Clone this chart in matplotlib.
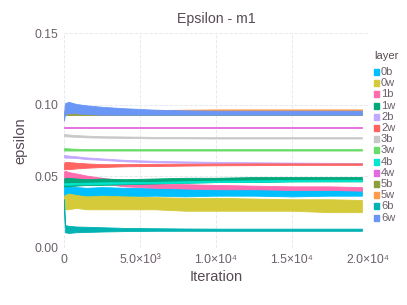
import matplotlib.pyplot as plt
from matplotlib.patches import Rectangle

# iteration knots
iters = [0, 60, 300, 800, 1500, 2500, 4000, 6000, 8000, 10000, 12500, 15000, 17500, 19600]

layers = ["0b", "0w", "1b", "1w", "2b", "2w", "3b", "3w", "4b", "4w", "5b", "5w", "6b", "6w"]
colors = ["#00BFFF", "#D4CA3A", "#FF6DAE", "#00A87A", "#C2A8FF", "#FF6461", "#C8C8C8",
          "#6BDC6B", "#00E6D0", "#E36BDD", "#8E9E3A", "#FF9A4A", "#00B2B2", "#6A96F5"]

# lower / upper edge of each noisy band
eps_lo = {
    "0b": [0.036, 0.036, 0.0355, 0.036, 0.036, 0.0365, 0.036, 0.0365, 0.036, 0.0365, 0.0365, 0.036, 0.0365, 0.0365],
    "0w": [0.028, 0.027, 0.027, 0.028, 0.027, 0.027, 0.027, 0.027, 0.026, 0.026, 0.026, 0.026, 0.025, 0.025],
    "1b": [0.048, 0.048, 0.047, 0.047, 0.046, 0.045, 0.043, 0.042, 0.0415, 0.041, 0.041, 0.0405, 0.0405, 0.040],
    "1w": [0.043, 0.043, 0.043, 0.0435, 0.044, 0.044, 0.0445, 0.045, 0.0455, 0.046, 0.046, 0.0465, 0.0465, 0.0465],
    "2b": [0.0635, 0.063, 0.063, 0.0628, 0.062, 0.0615, 0.0605, 0.0598, 0.0595, 0.0592, 0.059, 0.0588, 0.0586, 0.0585],
    "2w": [0.055, 0.055, 0.055, 0.0555, 0.056, 0.0565, 0.057, 0.0572, 0.0575, 0.0577, 0.0578, 0.058, 0.058, 0.058],
    "3b": [0.078, 0.078, 0.0778, 0.0775, 0.0772, 0.077, 0.0768, 0.0765, 0.0765, 0.0764, 0.0764, 0.0764, 0.0764, 0.0764],
    "3w": [0.068, 0.068, 0.068, 0.068, 0.068, 0.068, 0.068, 0.068, 0.068, 0.068, 0.068, 0.068, 0.068, 0.068],
    "4b": [0.0442, 0.0442, 0.0442, 0.0444, 0.0446, 0.0448, 0.045, 0.0452, 0.0456, 0.046, 0.0462, 0.0465, 0.0466, 0.0466],
    "4w": [0.0835, 0.0835, 0.0835, 0.0835, 0.0835, 0.0835, 0.0835, 0.0835, 0.0835, 0.0835, 0.0835, 0.0835, 0.0835, 0.0835],
    "5b": [0.093, 0.093, 0.093, 0.093, 0.093, 0.093, 0.093, 0.093, 0.093, 0.093, 0.093, 0.093, 0.093, 0.093],
    "5w": [0.094, 0.094, 0.094, 0.094, 0.094, 0.094, 0.094, 0.0945, 0.0948, 0.095, 0.095, 0.095, 0.095, 0.095],
    "6b": [0.031, 0.011, 0.0105, 0.011, 0.0112, 0.0115, 0.0118, 0.012, 0.012, 0.012, 0.012, 0.012, 0.012, 0.012],
    "6w": [0.089, 0.093, 0.094, 0.094, 0.0935, 0.093, 0.093, 0.093, 0.093, 0.093, 0.093, 0.093, 0.093, 0.093],
}
eps_hi = {
    "0b": [0.043, 0.043, 0.043, 0.0425, 0.042, 0.0425, 0.042, 0.042, 0.0415, 0.042, 0.042, 0.0415, 0.042, 0.042],
    "0w": [0.036, 0.037, 0.038, 0.037, 0.036, 0.0365, 0.036, 0.0355, 0.035, 0.035, 0.0345, 0.034, 0.034, 0.0335],
    "1b": [0.053, 0.054, 0.053, 0.052, 0.0505, 0.049, 0.047, 0.045, 0.0445, 0.044, 0.0435, 0.043, 0.043, 0.0425],
    "1w": [0.048, 0.049, 0.049, 0.0485, 0.048, 0.0485, 0.048, 0.0485, 0.049, 0.049, 0.0495, 0.0495, 0.0495, 0.0495],
    "2b": [0.065, 0.0648, 0.0645, 0.064, 0.0632, 0.0625, 0.0615, 0.0608, 0.0604, 0.0601, 0.0598, 0.0596, 0.0594, 0.0593],
    "2w": [0.059, 0.060, 0.060, 0.0595, 0.059, 0.0585, 0.0585, 0.0587, 0.0588, 0.0589, 0.059, 0.059, 0.059, 0.059],
    "3b": [0.0795, 0.0795, 0.0792, 0.0788, 0.0784, 0.078, 0.0778, 0.0775, 0.0774, 0.0773, 0.0773, 0.0773, 0.0773, 0.0773],
    "3w": [0.0695, 0.0698, 0.0695, 0.0692, 0.069, 0.069, 0.069, 0.069, 0.069, 0.069, 0.069, 0.069, 0.069, 0.069],
    "4b": [0.0452, 0.0452, 0.0452, 0.0454, 0.0456, 0.0458, 0.046, 0.0462, 0.0466, 0.047, 0.0472, 0.0475, 0.0476, 0.0476],
    "4w": [0.0845, 0.0845, 0.0845, 0.0845, 0.0845, 0.0845, 0.0845, 0.0845, 0.0845, 0.0845, 0.0845, 0.0845, 0.0845, 0.0845],
    "5b": [0.094, 0.094, 0.094, 0.094, 0.094, 0.094, 0.094, 0.094, 0.094, 0.094, 0.094, 0.094, 0.094, 0.094],
    "5w": [0.0955, 0.0955, 0.0955, 0.0955, 0.0955, 0.0958, 0.096, 0.0962, 0.0965, 0.0967, 0.0967, 0.0967, 0.0967, 0.0967],
    "6b": [0.034, 0.016, 0.0155, 0.015, 0.0148, 0.0145, 0.014, 0.0138, 0.0136, 0.0135, 0.0135, 0.0135, 0.0135, 0.0135],
    "6w": [0.093, 0.101, 0.102, 0.1005, 0.0995, 0.0985, 0.0975, 0.0965, 0.096, 0.0958, 0.0958, 0.0958, 0.0958, 0.0958],
}

x_ticks = [0, 5000, 10000, 15000, 20000]
x_tick_labels = ["0", "5.0×10³", "1.0×10⁴", "1.5×10⁴", "2.0×10⁴"]
y_ticks = [0.0, 0.05, 0.10, 0.15]
y_tick_labels = ["0.00", "0.05", "0.10", "0.15"]

plt.rcParams['font.family'] = ['Liberation Sans', 'DejaVu Sans']
grey = "#6C606B"
dark = "#564A55"

fig = plt.figure(figsize=(4.07, 3.05), dpi=100)
ax = fig.add_axes([64 / 407, 1 - 248 / 305, 304 / 407, 215 / 305])

for name, col in zip(layers, colors):
    ax.fill_between(iters, eps_lo[name], eps_hi[name], color=col, lw=0.6, edgecolor=col)

ax.set_xlim(0, 20000)
ax.set_ylim(0, 0.15)
ax.set_xticks(x_ticks)
ax.set_xticklabels(x_tick_labels)
ax.set_yticks(y_ticks)
ax.set_yticklabels(y_tick_labels)
ax.tick_params(length=0, labelsize=8.8, labelcolor=grey, pad=4)
for s in ax.spines.values():
    s.set_visible(False)
ax.grid(True, color="#E4E4EC", lw=0.6, ls=(0, (4, 2)))
ax.set_axisbelow(True)

ax.set_xlabel("Iteration", fontsize=10.5, color=dark, labelpad=3)
ax.set_ylabel("epsilon", fontsize=10.5, color=dark, labelpad=5)
ax.set_title("Epsilon - m1", fontsize=10.2, color=dark, pad=7)

# legend drawn by hand, Gadfly style
fig.text(374 / 407, 1 - 56 / 305, "layer", fontsize=8, color=dark, va="center", ha="left")
for i, (name, col) in enumerate(zip(layers, colors)):
    yc = 72 + i * 11.2
    fig.patches.append(Rectangle((374 / 407, 1 - (yc + 3) / 305), 5 / 407, 6 / 305,
                                 transform=fig.transFigure, color=col))
    fig.text(381 / 407, 1 - yc / 305, name, fontsize=8, color=grey, va="center", ha="left")

fig.savefig("out.png", dpi=100)
